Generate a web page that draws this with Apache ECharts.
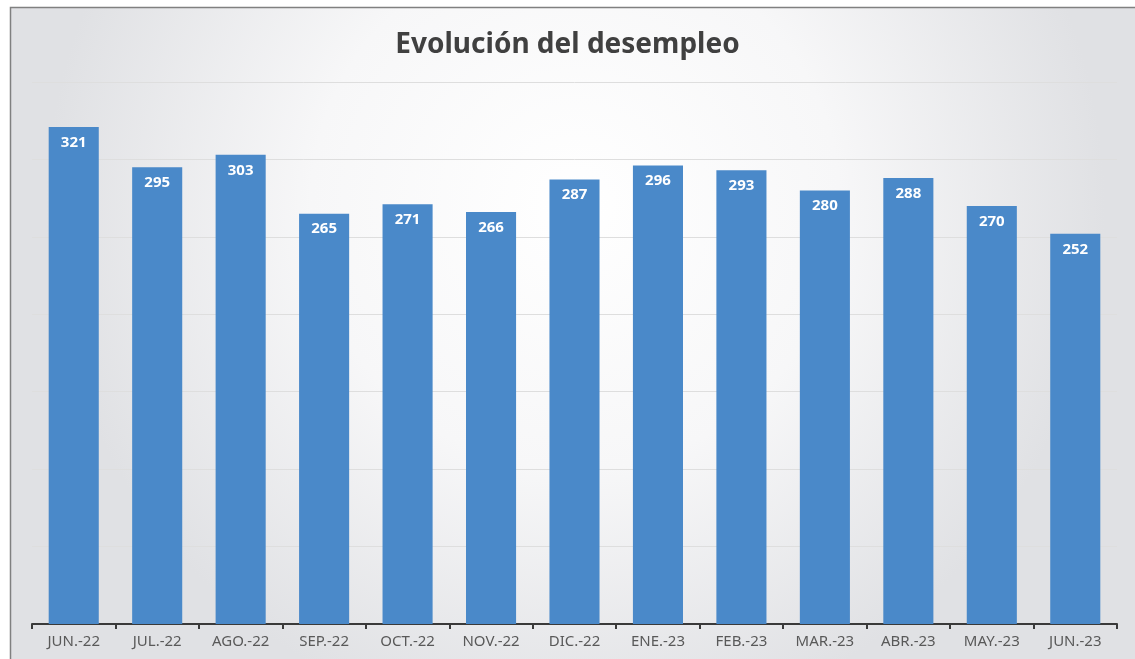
<!DOCTYPE html>
<html lang="es">
<head>
    <meta charset="UTF-8">
    <title>Evolución del desempleo</title>
    <script src="https://cdn.jsdelivr.net/npm/echarts@6/dist/echarts.min.js"></script>
    <style>
        * {
            margin: 0;
            padding: 0;
        }

        html, body {
            width: 100%;
            height: 100%;
            overflow: hidden;
            background: #fff;
        }

        .chart {
            width: 1135px;
            height: 659px;
        }
    </style>
</head>
<body>
<div class="chart"></div>
<script>
    // data
    let months = ['JUN.-22', 'JUL.-22', 'AGO.-22', 'SEP.-22', 'OCT.-22', 'NOV.-22', 'DIC.-22',
        'ENE.-23', 'FEB.-23', 'MAR.-23', 'ABR.-23', 'MAY.-23', 'JUN.-23'];
    let desempleo = [321, 295, 303, 265, 271, 266, 287, 296, 293, 280, 288, 270, 252];

    let box = document.querySelector('.chart');
    let myChart = echarts.init(box);

    let option = {
        backgroundColor: '#fff',
        graphic: [{
            type: 'rect',
            z: -10,
            shape: {x: 10.5, y: 7.5, width: 1130, height: 660},
            style: {
                fill: new echarts.graphic.RadialGradient(0.5, 0.3, 0.8, [
                    {offset: 0, color: '#ffffff'},
                    {offset: 0.5, color: '#f7f7f8'},
                    {offset: 1, color: '#e0e1e4'}
                ]),
                stroke: '#808080',
                lineWidth: 1.5
            }
        }],
        title: {
            text: 'Evolución del desempleo',
            left: 'center',
            top: 26,
            textStyle: {
                fontFamily: 'Noto Sans',
                fontWeight: 'bold',
                fontSize: 28,
                color: '#404040'
            }
        },
        grid: {
            left: 32,
            right: 18,
            top: 82,
            bottom: 35
        },
        xAxis: {
            type: 'category',
            data: months,
            axisLine: {lineStyle: {color: '#3a3a3a', width: 2}},
            axisTick: {show: true, length: 5, lineStyle: {color: '#3a3a3a', width: 2}},
            axisLabel: {
                fontFamily: 'Noto Sans',
                fontSize: 15,
                color: '#595959',
                margin: 10
            }
        },
        yAxis: {
            type: 'value',
            min: 0,
            max: 350,
            interval: 50,
            axisLabel: {show: false},
            axisLine: {show: false},
            axisTick: {show: false},
            splitLine: {lineStyle: {color: '#dedede', width: 1}}
        },
        series: [{
            type: 'bar',
            data: desempleo,
            barWidth: '60%',
            itemStyle: {color: '#4a89c9'},
            label: {
                show: true,
                position: 'insideTop',
                distance: 8,
                fontFamily: 'Noto Sans',
                fontWeight: 'bold',
                fontSize: 15,
                color: '#ffffff'
            }
        }]
    };
    myChart.setOption(option);
</script>
</body>
</html>
